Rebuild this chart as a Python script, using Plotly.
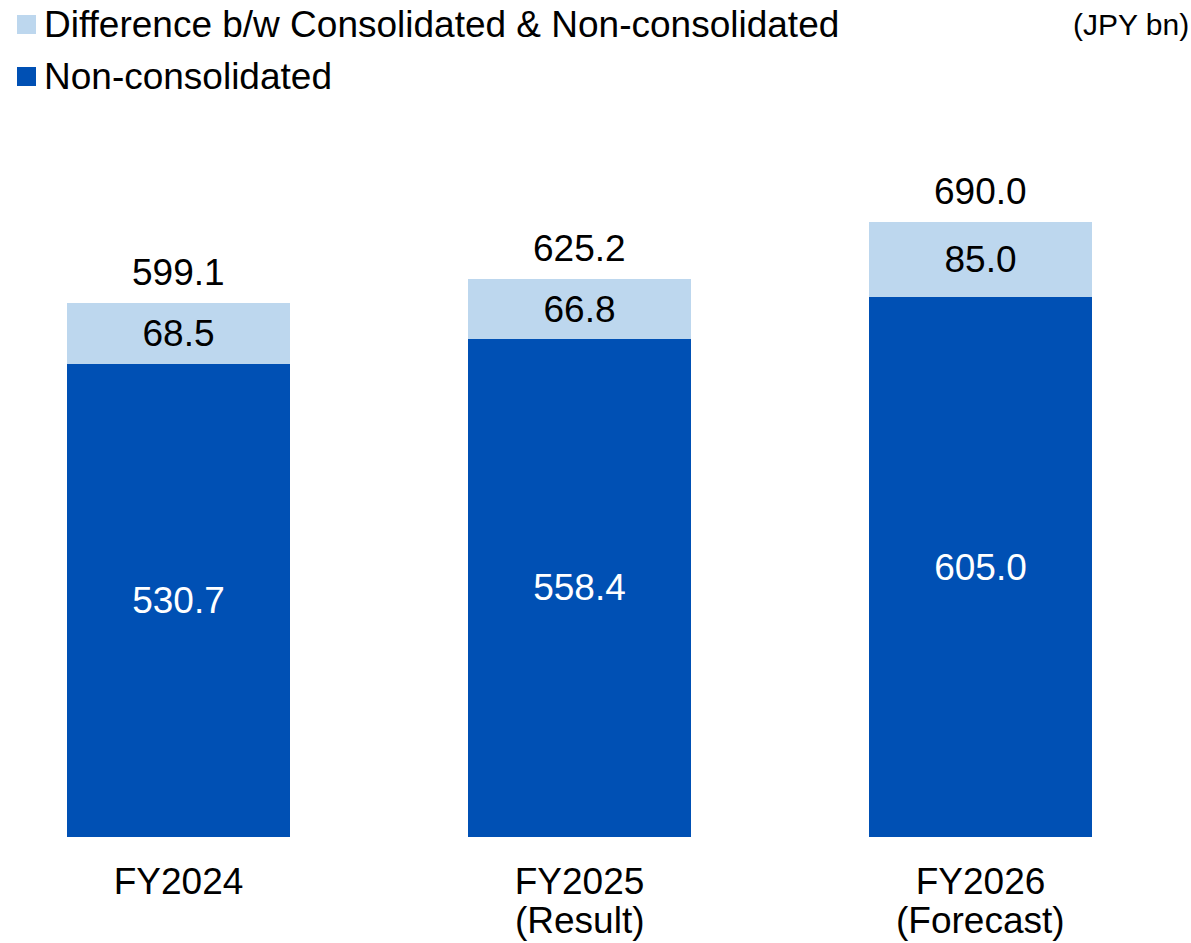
import plotly.graph_objects as go

# ---- data ----
categories = ["FY2024", "FY2025", "FY2026"]
category_notes = ["", "(Result)", "(Forecast)"]
non_consolidated = [530.7, 558.4, 605.0]
difference = [68.5, 66.8, 85.0]
totals = [599.1, 625.2, 690.0]
series_names = ["Difference b/w Consolidated & Non-consolidated", "Non-consolidated"]
unit_label = "(JPY bn)"

# ---- styling / layout constants ----
W, H = 1191, 943
PLOT_BOTTOM = 837
PX_PER_UNIT = 0.892
YMAX = PLOT_BOTTOM / PX_PER_UNIT
DARK = "#0050B4"
LIGHT = "#BDD7EE"
FONT = "Arial, Liberation Sans, sans-serif"
FS = 37

x = list(range(len(categories)))

fig = go.Figure()
fig.add_trace(go.Bar(
    x=x, y=non_consolidated, name=series_names[1],
    marker=dict(color=DARK, line=dict(width=0)), width=0.556,
    texttemplate="%{y:.1f}", textposition="inside", insidetextanchor="middle",
    textfont=dict(color="white", size=FS, family=FONT),
    constraintext="none", showlegend=False, hoverinfo="skip",
))
fig.add_trace(go.Bar(
    x=x, y=difference, name=series_names[0],
    marker=dict(color=LIGHT, line=dict(width=0)), width=0.556,
    texttemplate="%{y:.1f}", textposition="inside", insidetextanchor="middle",
    textfont=dict(color="black", size=FS, family=FONT),
    constraintext="none", showlegend=False, hoverinfo="skip",
))

annotations = []
for i, t in enumerate(totals):
    annotations.append(dict(
        x=i, y=t, xref="x", yref="y", text=f"{t:.1f}", showarrow=False,
        yanchor="bottom", yshift=8, font=dict(size=FS, color="black", family=FONT),
    ))

def py(p):
    return (PLOT_BOTTOM - p) / PLOT_BOTTOM

# second line of the category labels (tighter line spacing than Plotly's <br>)
for i, note in enumerate(category_notes):
    if note:
        annotations.append(dict(
            x=i, y=py(H), xref="x", yref="paper", text=note, showarrow=False,
            yanchor="bottom", font=dict(size=FS, color="black", family=FONT),
        ))

# custom legend (larger square swatches as in the original)
legend_rows = [(series_names[0], LIGHT, 15, 34), (series_names[1], DARK, 67, 86)]
shapes = []
for name, col, top, bot in legend_rows:
    shapes.append(dict(type="rect", xref="paper", yref="paper",
                       x0=17 / W, x1=36 / W, y0=py(bot), y1=py(top),
                       fillcolor=col, line=dict(width=0)))
    annotations.append(dict(
        x=42 / W, y=py((top + bot) / 2), xref="paper", yref="paper",
        xanchor="left", yanchor="middle", text=name, showarrow=False,
        font=dict(size=FS, color="black", family=FONT),
    ))

annotations.append(dict(
    x=1, y=py(25), xref="paper", yref="paper", xanchor="right", yanchor="middle",
    text=unit_label, showarrow=False, font=dict(size=30, color="black", family=FONT),
))

x0 = -178.5 / 401
fig.update_layout(
    width=W, height=H,
    margin=dict(l=0, r=0, t=0, b=H - PLOT_BOTTOM, pad=0, autoexpand=False),
    barmode="stack",
    plot_bgcolor="white", paper_bgcolor="white",
    font=dict(family=FONT, color="black", size=FS),
    xaxis=dict(range=[x0, x0 + W / 401], tickmode="array", tickvals=x,
               ticktext=categories, showgrid=False, zeroline=False,
               showline=False, ticks="", ticklabelstandoff=19, automargin=False,
               tickfont=dict(size=FS, color="black", family=FONT)),
    yaxis=dict(range=[0, YMAX], visible=False, showgrid=False, zeroline=False,
               automargin=False),
    annotations=annotations, shapes=shapes,
    showlegend=False,
)

fig.write_html("out.html", config={"displayModeBar": False},
               post_script="document.body.style.margin='0';")
